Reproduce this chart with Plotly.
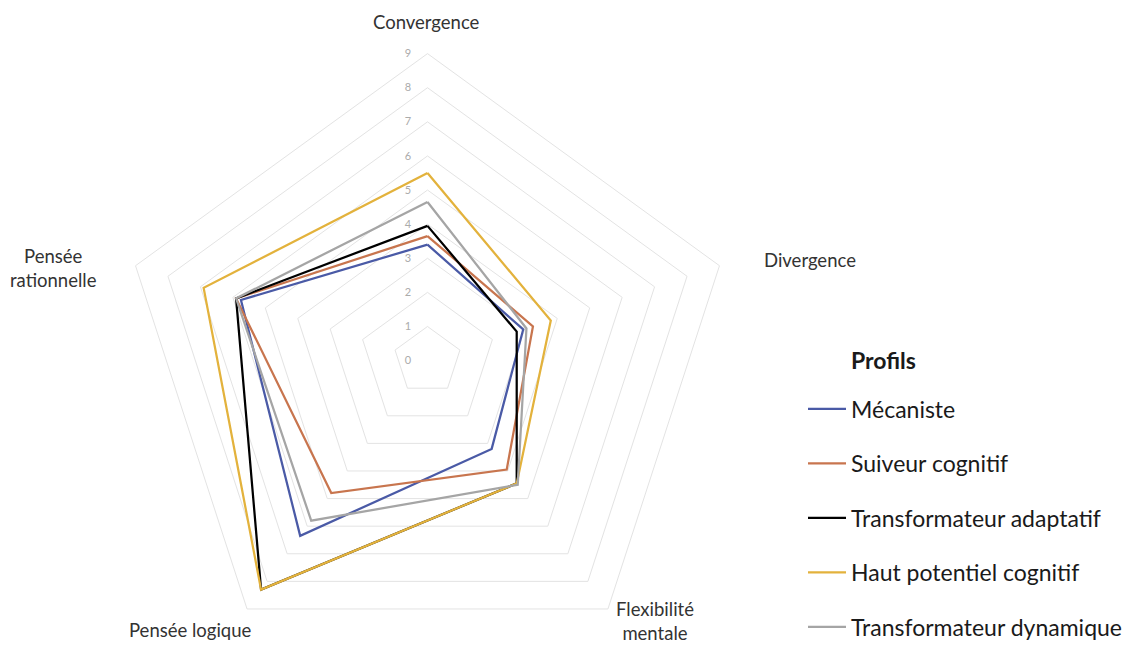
import plotly.graph_objects as go

categories = ["Convergence", "Divergence", "Flexibilité mentale", "Pensée logique", "Pensée rationnelle"]
category_labels = ["Convergence", "Divergence", "Flexibilité<br>mentale", "Pensée logique", "Pensée<br>rationnelle"]

series_names = ["Mécaniste", "Suiveur cognitif", "Transformateur adaptatif",
                "Haut potentiel cognitif", "Transformateur dynamique"]
mecaniste = [3.4, 2.95, 3.2, 6.35, 5.75]
suiveur = [3.65, 3.25, 3.95, 4.8, 5.9]
transf_adaptatif = [3.95, 2.75, 4.45, 8.3, 5.9]
haut_potentiel = [5.5, 3.8, 4.45, 8.3, 6.9]
transf_dynamique = [4.65, 3.05, 4.5, 5.8, 5.9]
series_values = [mecaniste, suiveur, transf_adaptatif, haut_potentiel, transf_dynamique]
colors = ["#4A5AA6", "#C8754E", "#000000", "#E3B23C", "#A5A5A5"]

radial_ticks = list(range(0, 10))

# page body has an 8px default margin; figure coordinates below are relative to the figure
W, H = 1126, 662
fig = go.Figure()
for name, vals, col in zip(series_names, series_values, colors):
    fig.add_trace(go.Scatterpolar(
        r=vals + [vals[0]],
        theta=categories + [categories[0]],
        mode="lines",
        name=name,
        legendgroup=name,
        line=dict(color=col, width=2.25),
    ))

grid = "#E3E3E3"
cx, cy, rad = 419.5, 352.6, 307.0

# category label placement (figure pixels): x, y, xanchor
label_pos = [(418, 14, "center"), (754, 252, "left"), (647, 613, "center"),
             (182, 622, "center"), (45, 260, "center")]

annotations = []
for txt, (lx, ly, xa) in zip(category_labels, label_pos):
    annotations.append(dict(
        text=txt, x=lx / W, y=1 - ly / H, xref="paper", yref="paper",
        xanchor=xa, yanchor="middle", showarrow=False, align="center",
        font=dict(size=18.5, color="#333333"),
    ))
annotations.append(dict(
    text="<b>Profils</b>", x=841 / W, y=1 - 352 / H, xref="paper", yref="paper",
    xanchor="left", yanchor="middle", showarrow=False,
    font=dict(size=23, color="#1A1A1A"),
))

fig.update_layout(
    width=W, height=H,
    margin=dict(l=0, r=0, t=0, b=0),
    paper_bgcolor="white",
    plot_bgcolor="white",
    font=dict(family="Lato, 'Open Sans', sans-serif"),
    polar=dict(
        domain=dict(x=[(cx - rad) / W, (cx + rad) / W],
                    y=[(H - cy - rad) / H, (H - cy + rad) / H]),
        gridshape="linear",
        bgcolor="white",
        radialaxis=dict(
            range=[0, 9], tickvals=radial_ticks, ticktext=[str(t) for t in radial_ticks],
            angle=90, tickangle=90, side="counterclockwise",
            showline=False, showgrid=True, gridcolor=grid, gridwidth=1,
            ticks="outside", ticklen=12, tickcolor="rgba(0,0,0,0)",
            tickfont=dict(size=11, color="#ABABAB"),
        ),
        angularaxis=dict(
            direction="clockwise", rotation=90,
            categoryorder="array", categoryarray=categories,
            showgrid=False, showline=True, linecolor=grid, linewidth=1,
            ticks="", showticklabels=False,
        ),
    ),
    showlegend=True,
    legend=dict(
        x=795 / W, y=1 - 379.5 / H, xanchor="left", yanchor="top",
        font=dict(size=23, color="#1A1A1A"),
        tracegroupgap=21.6, itemwidth=38, bgcolor="rgba(0,0,0,0)",
    ),
    annotations=annotations,
)

fig.write_html("out.html")
